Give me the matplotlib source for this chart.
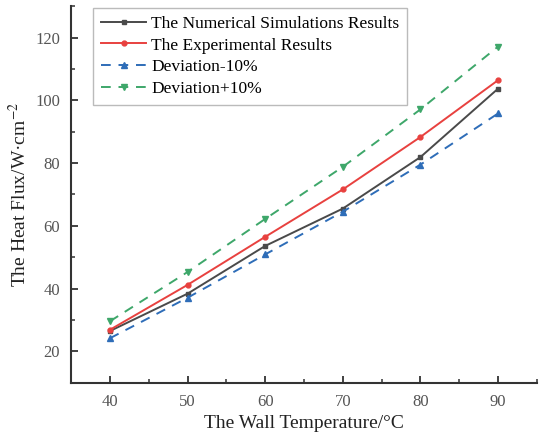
import matplotlib
matplotlib.use('Agg')
import matplotlib.pyplot as plt
from matplotlib.ticker import MultipleLocator

plt.rcParams['font.family'] = ['Liberation Serif', 'DejaVu Serif']
plt.rcParams['mathtext.fontset'] = 'stix'

temp = [40, 50, 60, 70, 80, 90]
numerical = [26.5, 38.4, 53.6, 65.5, 81.9, 103.7]
experimental = [26.9, 41.2, 56.5, 71.6, 88.3, 106.4]
dev_minus = [24.2, 37.1, 50.9, 64.5, 79.5, 95.8]
dev_plus = [29.6, 45.3, 62.2, 78.8, 97.1, 117.1]

fig = plt.figure(figsize=(5.39, 4.37), dpi=100)
ax = fig.add_axes([0.132, 0.124, 0.864, 0.862])

ax.plot(temp, numerical, color='#4a4a4a', marker='s', markersize=3.5, linewidth=1.4,
        label='The Numerical Simulations Results')
ax.plot(temp, experimental, color='#e8413f', marker='o', markersize=3.5, linewidth=1.4,
        label='The Experimental Results')
ax.plot(temp, dev_minus, color='#2e6db8', marker='^', markersize=4, linewidth=1.4,
        linestyle=(0, (5, 4)), label='Deviation-10%')
ax.plot(temp, dev_plus, color='#3ea76a', marker='v', markersize=4, linewidth=1.4,
        linestyle=(0, (5, 4)), label='Deviation+10%')

ax.set_xlim(35, 95)
ax.set_ylim(10, 130)
ax.xaxis.set_major_locator(MultipleLocator(10))
ax.xaxis.set_minor_locator(MultipleLocator(5))
ax.yaxis.set_major_locator(MultipleLocator(20))
ax.yaxis.set_minor_locator(MultipleLocator(10))
ax.set_yticks([20, 40, 60, 80, 100, 120])

for s in ['top', 'right']:
    ax.spines[s].set_visible(False)
for s in ['left', 'bottom']:
    ax.spines[s].set_linewidth(1.5)
    ax.spines[s].set_color('#333333')

ax.tick_params(which='major', direction='in', length=5, width=1.3, color='#333333',
               labelsize=12, labelcolor='#555555', pad=8)
ax.tick_params(which='minor', direction='in', length=3, width=1.1, color='#333333')

ax.set_xlabel('The Wall Temperature/°C', fontsize=14, color='#222222')
ax.set_ylabel('The Heat Flux/W·cm$^{-2}$', fontsize=14, color='#222222')

leg = ax.legend(loc='upper left', bbox_to_anchor=(0.04, 1.005), fontsize=12.5, frameon=True,
                fancybox=False, edgecolor='#aaaaaa', handlelength=2.6, labelspacing=0.33,
                borderpad=0.45, handletextpad=0.3, borderaxespad=0.2)
leg.get_frame().set_linewidth(1.0)

fig.savefig('out.png', dpi=100)
